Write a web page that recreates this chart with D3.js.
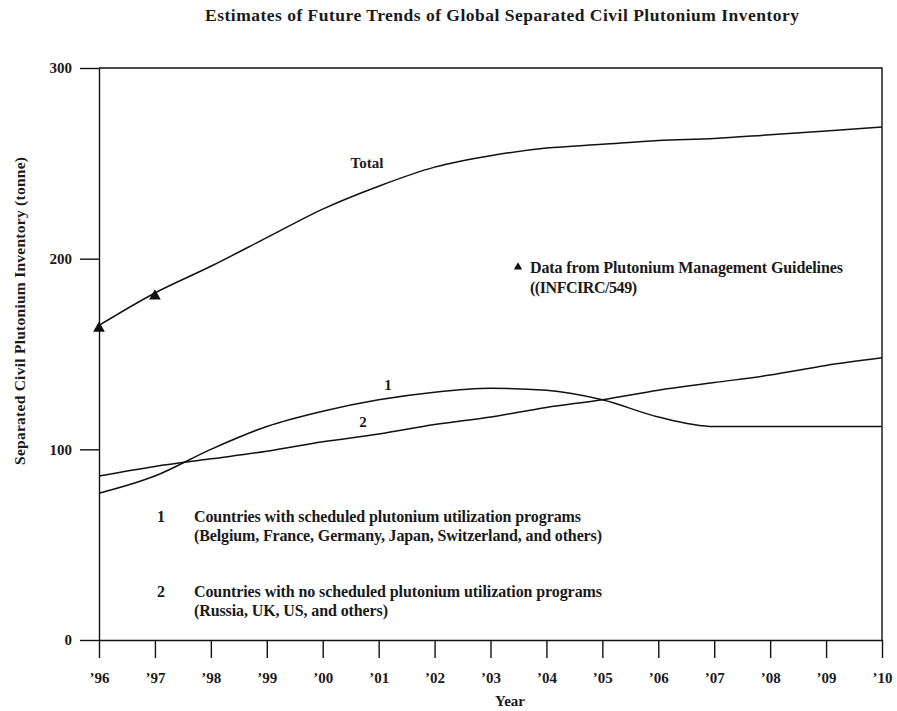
<!DOCTYPE html>
<html>
<head>
<meta charset="utf-8">
<script src="https://cdn.jsdelivr.net/npm/d3@7"></script>
<style>
  body { margin: 0; background: #fff; }
  text { font-family: "Liberation Serif", "DejaVu Serif", serif; font-weight: bold; fill: #1a1a1a; }
  .axis path, .axis line { stroke: #111; stroke-width: 1.4; }
</style>
</head>
<body>
<div class="chart"></div>
<script>
// years and tick labels
var years = [1996, 1997, 1998, 1999, 2000, 2001, 2002, 2003, 2004, 2005, 2006, 2007, 2008, 2009, 2010];
var yearLabels = ["’96", "’97", "’98", "’99", "’00", "’01", "’02", "’03", "’04", "’05", "’06", "’07", "’08", "’09", "’10"];
var yTicks = [0, 100, 200, 300];

// series values (tonne)
var total = [165, 182, 196, 211, 226, 238, 248, 254, 258, 260, 262, 263, 265, 267, 269];
var group1 = [77, 86, 100, 112, 120, 126, 130, 132, 131, 126, 117, 112, 112, 112, 112];
var group2 = [86, 91, 95, 99, 104, 108, 113, 117, 122, 126, 131, 135, 139, 144, 148];
// points from INFCIRC/549
var guideYears = [1996, 1997];
var guideValues = [165, 182];

var svgWidth = 897, svgHeight = 711;
var margin = { top: 68, right: 15, bottom: 71, left: 99 };
var width = svgWidth - margin.left - margin.right;
var height = svgHeight - margin.top - margin.bottom;

var svg = d3.select(".chart")
  .append("svg")
  .attr("width", svgWidth)
  .attr("height", svgHeight);

var chartGroup = svg.append("g")
  .attr("transform", `translate(${margin.left}, ${margin.top})`);

var xScale = d3.scaleLinear().domain([1996, 2010]).range([0, width]);
var yScale = d3.scaleLinear().domain([0, 300]).range([height, 0]);

// frame: top and right
chartGroup.append("path")
  .attr("d", `M0,0H${width}V${height}`)
  .attr("fill", "none")
  .attr("stroke", "#111")
  .attr("stroke-width", 1.4);

var xAxis = d3.axisBottom(xScale)
  .tickValues(years)
  .tickFormat((d, i) => yearLabels[i])
  .tickSize(18)
  .tickSizeOuter(0);

var yAxis = d3.axisLeft(yScale)
  .tickValues(yTicks)
  .tickSize(19)
  .tickSizeOuter(0);

chartGroup.append("g")
  .attr("class", "axis")
  .attr("transform", `translate(0, ${height})`)
  .call(xAxis)
  .call(g => g.selectAll("text").attr("y", 32).style("font-size", "15px"));

chartGroup.append("g")
  .attr("class", "axis")
  .call(yAxis)
  .call(g => g.selectAll("text").attr("x", -27).style("font-size", "15px"));

// lines
var line = d3.line()
  .x((d, i) => xScale(years[i]))
  .y(d => yScale(d))
  .curve(d3.curveMonotoneX);

[total, group1, group2].forEach(function(series) {
  chartGroup.append("path")
    .datum(series)
    .attr("d", line)
    .attr("fill", "none")
    .attr("stroke", "#111")
    .attr("stroke-width", 1.5);
});

var tri = d3.symbol().type(d3.symbolTriangle).size(60);
chartGroup.selectAll(".guide")
  .data(guideValues)
  .enter()
  .append("path")
  .attr("class", "guide")
  .attr("d", tri)
  .attr("transform", (d, i) => `translate(${xScale(guideYears[i])}, ${yScale(d) + 3})`)
  .attr("fill", "#111");

// line labels
svg.append("text").attr("x", 367).attr("y", 168).attr("text-anchor", "middle").style("font-size", "15px").text("Total");
svg.append("text").attr("x", 388).attr("y", 390).attr("text-anchor", "middle").style("font-size", "15px").text("1");
svg.append("text").attr("x", 363).attr("y", 427).attr("text-anchor", "middle").style("font-size", "15px").text("2");

// legend for triangles
svg.append("path").attr("d", d3.symbol().type(d3.symbolTriangle).size(30)).attr("transform", "translate(518, 267)").attr("fill", "#111");
svg.append("text").attr("x", 530).attr("y", 273).attr("textLength", 313).style("font-size", "16px").text("Data from Plutonium Management Guidelines");
svg.append("text").attr("x", 530).attr("y", 293).attr("textLength", 107).style("font-size", "16px").text("((INFCIRC/549)");

// group notes
var notes = [
  { num: "1", y: 522, lines: ["Countries with scheduled plutonium utilization programs", "(Belgium, France, Germany, Japan, Switzerland, and others)"], widths: [387, 408] },
  { num: "2", y: 597, lines: ["Countries with no scheduled plutonium utilization programs", "(Russia, UK, US, and others)"], widths: [408, 194] }
];
notes.forEach(function(n) {
  svg.append("text").attr("x", 157).attr("y", n.y).style("font-size", "16px").text(n.num);
  n.lines.forEach(function(t, i) {
    svg.append("text").attr("x", 194).attr("y", n.y + 19 * i)
      .attr("textLength", n.widths[i])
      .style("font-size", "16px").text(t);
  });
});

// title and axis titles
svg.append("text")
  .attr("x", 502).attr("y", 21)
  .attr("text-anchor", "middle")
  .attr("textLength", 594)
  .style("font-size", "17.5px")
  .text("Estimates of Future Trends of Global Separated Civil Plutonium Inventory");

svg.append("text")
  .attr("transform", "rotate(-90)")
  .attr("x", -311).attr("y", 25)
  .attr("text-anchor", "middle")
  .attr("textLength", 308)
  .style("font-size", "15.5px")
  .text("Separated Civil Plutonium Inventory (tonne)");

svg.append("text")
  .attr("x", 510).attr("y", 706)
  .attr("text-anchor", "middle")
  .style("font-size", "15px")
  .text("Year");
</script>
</body>
</html>
